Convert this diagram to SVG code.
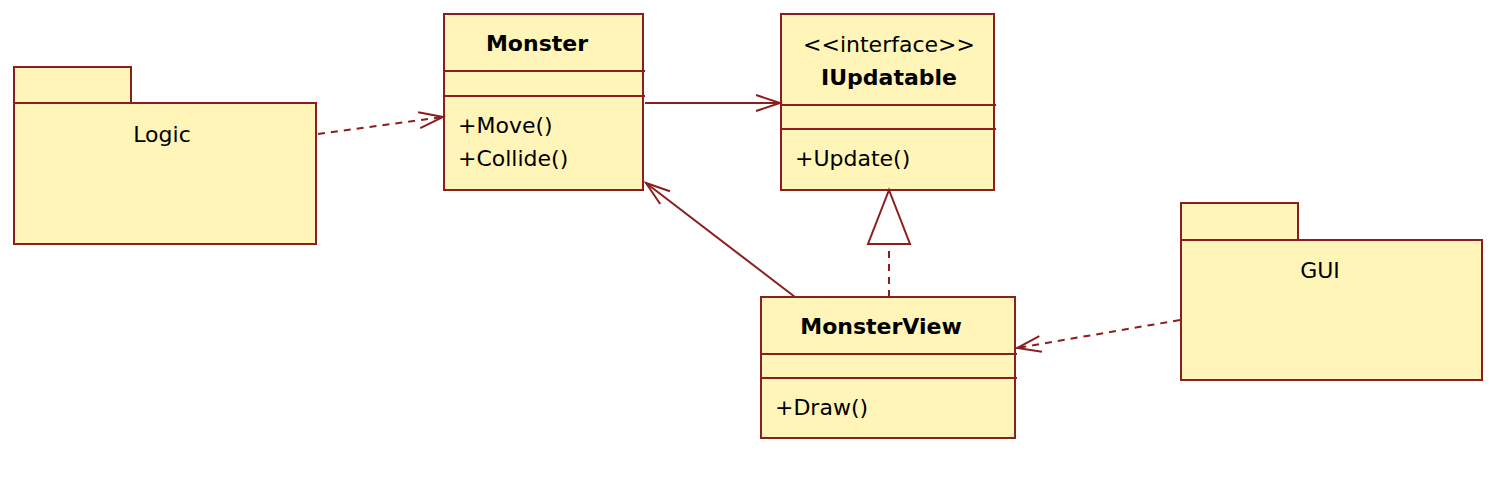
<svg xmlns="http://www.w3.org/2000/svg" width="1493" height="480" viewBox="0 0 1493 480">
<style>
.b{fill:#FFF5B8;stroke:#8B1E1E;stroke-width:2}
.l{stroke:#8B1E1E;stroke-width:2;fill:none}
.d{stroke-dasharray:7,6}
text{font-family:"DejaVu Sans",Verdana,sans-serif;font-size:22px;fill:#000}
.t{font-weight:bold;text-anchor:middle}
.c{text-anchor:middle}
</style>
<defs>
<marker id="a" markerWidth="30" markerHeight="20" refX="26" refY="10" orient="auto" markerUnits="userSpaceOnUse">
<path d="M2,2 L26,10 L2,18" fill="none" stroke="#8B1E1E" stroke-width="2"/>
</marker>
</defs>
<rect width="1493" height="480" fill="#fff"/>
<g id="logic">
<rect class="b" x="14" y="67" width="117" height="36"/>
<rect class="b" x="14" y="103" width="302" height="141"/>
<text class="c" x="162" y="142">Logic</text>
</g>
<g id="monster">
<rect class="b" x="444" y="14" width="199" height="176"/>
<path class="l" d="M444,71H645M444,96H645"/>
<text class="t" x="537" y="51">Monster</text>
<text x="458" y="133">+Move()</text>
<text x="458" y="166">+Collide()</text>
</g>
<g id="iupdatable">
<rect class="b" x="781" y="14" width="213" height="176"/>
<path class="l" d="M781,105H996M781,129H996"/>
<text class="c" x="889" y="52">&lt;&lt;interface&gt;&gt;</text>
<text class="t" x="889" y="85">IUpdatable</text>
<text x="795" y="166">+Update()</text>
</g>
<g id="monsterview">
<rect class="b" x="761" y="297" width="254" height="141"/>
<path class="l" d="M761,354H1017M761,378H1017"/>
<text class="t" x="881" y="334">MonsterView</text>
<text x="775" y="415">+Draw()</text>
</g>
<g id="gui">
<rect class="b" x="1181" y="203" width="117" height="37"/>
<rect class="b" x="1181" y="240" width="301" height="140"/>
<text class="c" x="1320" y="278">GUI</text>
</g>
<g id="connectors">
<path class="l d" d="M318,134L443,117" marker-end="url(#a)"/>
<path class="l" d="M645,103L780,103" marker-end="url(#a)"/>
<path class="l" d="M795,297L646,183" marker-end="url(#a)"/>
<path class="l d" d="M889,297L889,244"/>
<path class="l" d="M868,244L910,244L889,190Z" fill="#fff"/>
<path class="l d" d="M1180,320L1017,348" marker-end="url(#a)"/>
</g>
</svg>
